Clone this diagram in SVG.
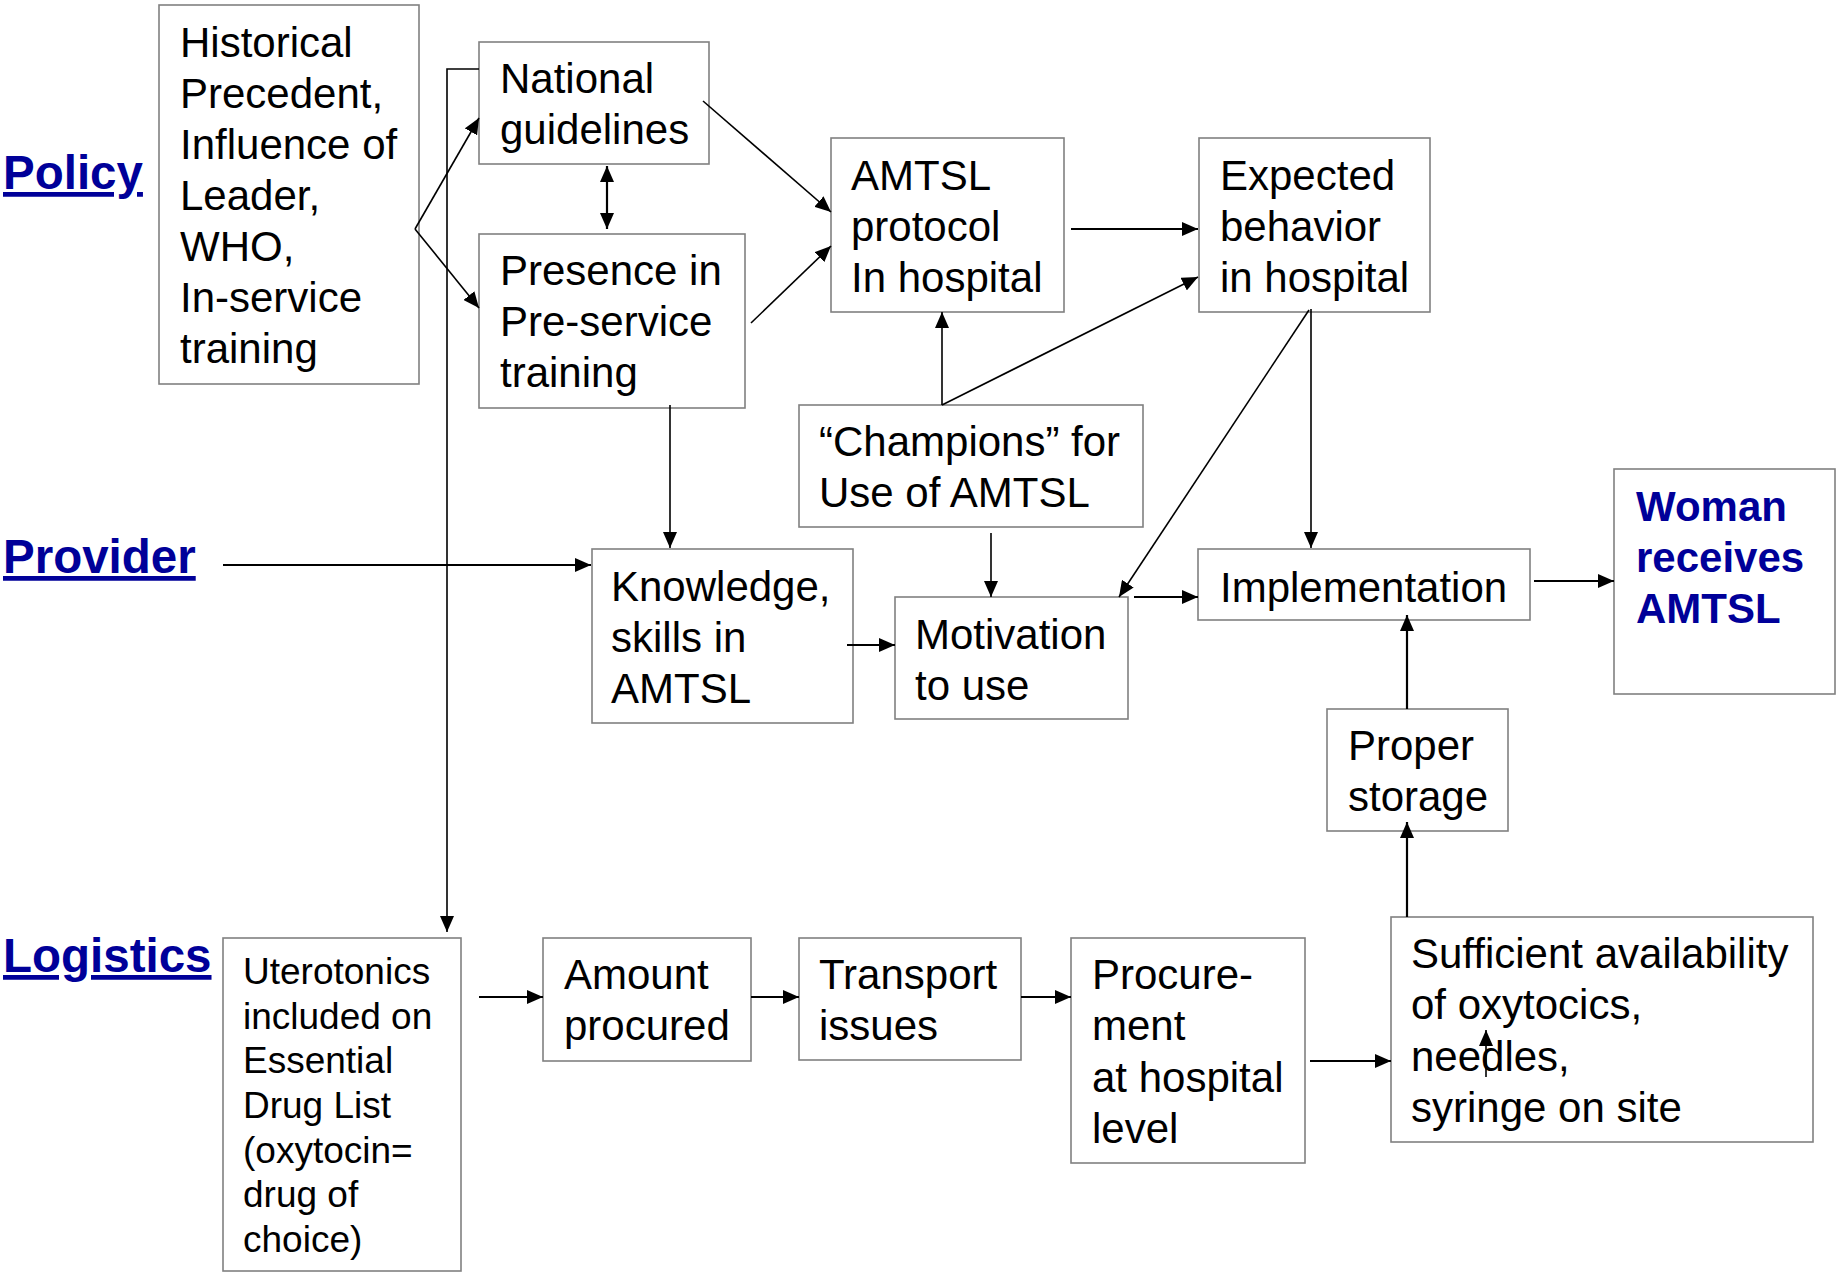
<svg xmlns="http://www.w3.org/2000/svg" width="1837" height="1272" viewBox="0 0 1837 1272">
<style>
.box{fill:#fff;stroke:#808080;stroke-width:1.6}
.t{font-family:"Liberation Sans",Arial,sans-serif;font-size:42px;fill:#000}
.ts{font-family:"Liberation Sans",Arial,sans-serif;font-size:37px;fill:#000}
.lab{font-family:"Liberation Sans",Arial,sans-serif;font-size:47.5px;font-weight:bold;fill:#000099;text-decoration:underline}
.wb{font-family:"Liberation Sans",Arial,sans-serif;font-size:42px;font-weight:bold;fill:#000099}
.c{stroke:#000;stroke-width:1.6;fill:none}
.c2{stroke:#000;stroke-width:2.2;fill:none}
.a{marker-end:url(#ah)}
</style>
<defs>
<marker id="ah" markerUnits="userSpaceOnUse" markerWidth="16" markerHeight="14" refX="16" refY="7" orient="auto-start-reverse" viewBox="0 0 16 14">
<path d="M0,0 L16,7 L0,14 z" fill="#000"/>
</marker>
</defs>
<rect width="1837" height="1272" fill="#fff"/>

<g id="labels">
<text class="lab" x="3" y="189">Policy</text>
<text class="lab" x="3" y="573">Provider</text>
<text class="lab" x="3" y="972">Logistics</text>
</g>

<g id="historical">
<rect class="box" x="159" y="5" width="260" height="379"/>
<text class="t"><tspan x="180" y="57">Historical</tspan><tspan x="180" y="108">Precedent,</tspan><tspan x="180" y="159">Influence of</tspan><tspan x="180" y="210">Leader,</tspan><tspan x="180" y="261">WHO,</tspan><tspan x="180" y="312">In-service</tspan><tspan x="180" y="363">training</tspan></text>
</g>

<g id="national">
<rect class="box" x="479" y="42" width="230" height="122"/>
<text class="t"><tspan x="500" y="93">National</tspan><tspan x="500" y="144">guidelines</tspan></text>
</g>

<g id="presence">
<rect class="box" x="479" y="234" width="266" height="174"/>
<text class="t"><tspan x="500" y="285">Presence in</tspan><tspan x="500" y="336">Pre-service</tspan><tspan x="500" y="387">training</tspan></text>
</g>

<g id="protocol">
<rect class="box" x="831" y="138" width="233" height="174"/>
<text class="t"><tspan x="851" y="190">AMTSL</tspan><tspan x="851" y="241">protocol</tspan><tspan x="851" y="292">In hospital</tspan></text>
</g>

<g id="expected">
<rect class="box" x="1199" y="138" width="231" height="174"/>
<text class="t"><tspan x="1220" y="190">Expected</tspan><tspan x="1220" y="241">behavior</tspan><tspan x="1220" y="292">in hospital</tspan></text>
</g>

<g id="champions">
<rect class="box" x="799" y="405" width="344" height="122"/>
<text class="t"><tspan x="819" y="456">“Champions” for</tspan><tspan x="819" y="507">Use of AMTSL</tspan></text>
</g>

<g id="knowledge">
<rect class="box" x="592" y="549" width="261" height="174"/>
<text class="t"><tspan x="611" y="601">Knowledge,</tspan><tspan x="611" y="652">skills in</tspan><tspan x="611" y="703">AMTSL</tspan></text>
</g>

<g id="motivation">
<rect class="box" x="895" y="597" width="233" height="122"/>
<text class="t"><tspan x="915" y="649">Motivation</tspan><tspan x="915" y="700">to use</tspan></text>
</g>

<g id="implementation">
<rect class="box" x="1198" y="549" width="332" height="71"/>
<text class="t" x="1220" y="602">Implementation</text>
</g>

<g id="woman">
<rect class="box" x="1614" y="469" width="221" height="225"/>
<text class="wb"><tspan x="1636" y="521">Woman</tspan><tspan x="1636" y="572">receives</tspan><tspan x="1636" y="623">AMTSL</tspan></text>
</g>

<g id="storage">
<rect class="box" x="1327" y="709" width="181" height="122"/>
<text class="t"><tspan x="1348" y="760">Proper</tspan><tspan x="1348" y="811">storage</tspan></text>
</g>

<g id="uterotonics">
<rect class="box" x="223" y="938" width="238" height="333"/>
<text class="ts"><tspan x="243" y="984">Uterotonics</tspan><tspan x="243" y="1029">included on</tspan><tspan x="243" y="1073">Essential</tspan><tspan x="243" y="1118">Drug List</tspan><tspan x="243" y="1163">(oxytocin=</tspan><tspan x="243" y="1207">drug of</tspan><tspan x="243" y="1252">choice)</tspan></text>
</g>

<g id="amount">
<rect class="box" x="543" y="938" width="208" height="123"/>
<text class="t"><tspan x="564" y="989">Amount</tspan><tspan x="564" y="1040">procured</tspan></text>
</g>

<g id="transport">
<rect class="box" x="799" y="938" width="222" height="122"/>
<text class="t"><tspan x="819" y="989">Transport</tspan><tspan x="819" y="1040">issues</tspan></text>
</g>

<g id="procurement">
<rect class="box" x="1071" y="938" width="234" height="225"/>
<text class="t"><tspan x="1092" y="989">Procure-</tspan><tspan x="1092" y="1040">ment</tspan><tspan x="1092" y="1092">at hospital</tspan><tspan x="1092" y="1143">level</tspan></text>
</g>

<g id="sufficient">
<rect class="box" x="1391" y="917" width="422" height="225"/>
<text class="t"><tspan x="1411" y="968">Sufficient availability</tspan><tspan x="1411" y="1019">of oxytocics,</tspan><tspan x="1411" y="1071">needles,</tspan><tspan x="1411" y="1122">syringe on site</tspan></text>
</g>

<g id="connectors">
<line class="c a" x1="415" y1="229" x2="479" y2="118"/>
<line class="c a" x1="415" y1="229" x2="479" y2="308"/>
<line class="c2" x1="607" y1="166" x2="607" y2="229" marker-start="url(#ah)" marker-end="url(#ah)"/>
<polyline class="c a" points="479,69 447,69 447,932"/>
<line class="c a" x1="703" y1="101" x2="831" y2="212"/>
<line class="c a" x1="751" y1="323" x2="831" y2="246"/>
<line class="c2 a" x1="1071" y1="229" x2="1198" y2="229"/>
<line class="c a" x1="942" y1="405" x2="942" y2="312"/>
<line class="c a" x1="942" y1="405" x2="1198" y2="277"/>
<line class="c a" x1="1311" y1="309" x2="1311" y2="548"/>
<line class="c a" x1="1309" y1="310" x2="1119" y2="597"/>
<line class="c a" x1="670" y1="405" x2="670" y2="548"/>
<line class="c2 a" x1="223" y1="565" x2="591" y2="565"/>
<line class="c a" x1="991" y1="533" x2="991" y2="597"/>
<line class="c2 a" x1="847" y1="645" x2="895" y2="645"/>
<line class="c2 a" x1="1134" y1="597" x2="1198" y2="597"/>
<line class="c2 a" x1="1534" y1="581" x2="1614" y2="581"/>
<line class="c2 a" x1="1407" y1="709" x2="1407" y2="615"/>
<line class="c2 a" x1="1407" y1="917" x2="1407" y2="822"/>
<line class="c2 a" x1="479" y1="997" x2="543" y2="997"/>
<line class="c2 a" x1="751" y1="997" x2="799" y2="997"/>
<line class="c2 a" x1="1021" y1="997" x2="1071" y2="997"/>
<line class="c2 a" x1="1310" y1="1061" x2="1391" y2="1061"/>
<line class="c a" x1="1486" y1="1077" x2="1486" y2="1030"/>
</g>
</svg>
